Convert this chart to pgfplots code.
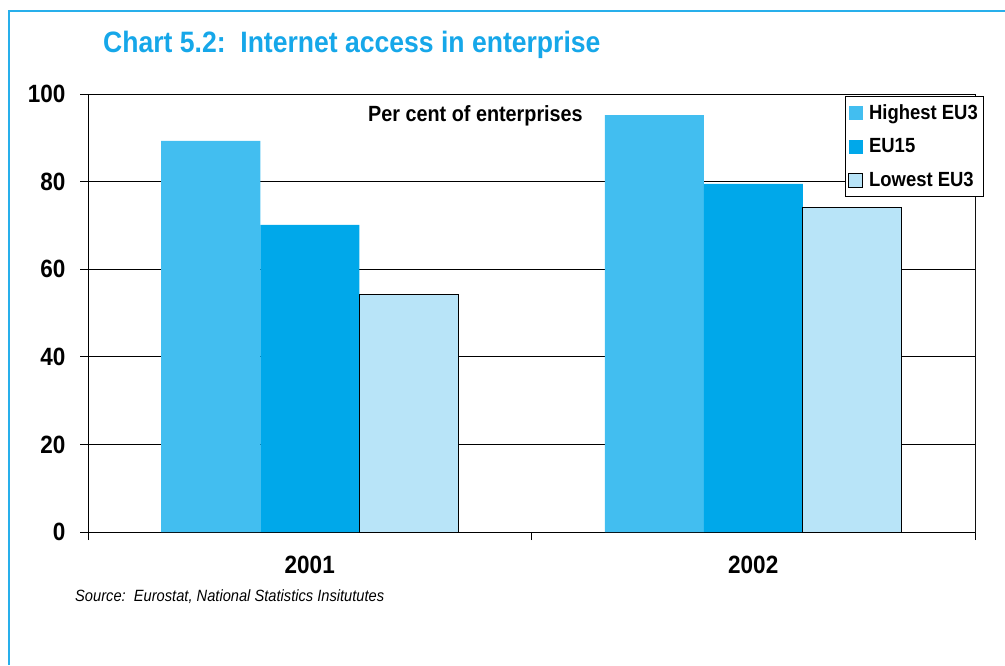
\documentclass[border=0pt]{standalone}
\usepackage{pgfplots}
\pgfplotsset{compat=1.18}
\usepackage{fontspec}
\setmainfont{Liberation Sans}[FakeStretch=0.9]
\definecolor{titleblue}{RGB}{22,167,233}
\definecolor{eublue}{RGB}{0,168,234}
\definecolor{hiblue}{RGB}{66,190,240}
\definecolor{loblue}{RGB}{184,228,248}
\definecolor{framebl}{RGB}{40,175,235}
\begin{document}
\begin{tikzpicture}[x=1pt,y=1pt]
\path[use as bounding box] (0,0) rectangle (1005,665);
\draw[framebl, line width=2pt] (9,0) -- (9,654) -- (1006,654);
\node[anchor=base west, text=titleblue, inner sep=0pt, font=\fontsize{29.5}{34}\selectfont\bfseries] at (103,612) {Chart 5.2:\ \ Internet access in enterprise};
\begin{axis}[
  at={(88pt,133pt)}, anchor=south west, scale only axis,
  width=887pt, height=438pt,
  ybar=0pt, bar width=99pt,
  xmin=-0.5, xmax=1.5, ymin=0, ymax=100,
  xtick={-0.5,0.5,1.5}, xticklabels={},
  extra x ticks={0,1}, extra x tick labels={2001,2002},
  extra x tick style={major tick length=0pt, grid=none},
  ytick={0,20,40,60,80,100},
  xtick pos=bottom, ytick pos=left,
  ymajorgrids, grid style={black, line width=0.8pt},
  tick align=outside, major tick length=8pt,
  tick style={black, line width=0.8pt},
  axis line style={black, line width=0.8pt},
  /pgf/number format/assume math mode=true,
  ticklabel style={font=\fontsize{25}{30}\selectfont\bfseries},
  xticklabel style={yshift=-21pt},
  yticklabel style={xshift=-11pt},
  legend style={at={(1.009,0.995)}, anchor=north east, draw=black, fill=white,
    font=\fontsize{20.5}{24}\selectfont\bfseries, inner xsep=3pt, inner ysep=6pt, row sep=14pt},
  legend cell align=left,
  legend image code/.code={\path[#1] (0pt,-7pt) rectangle (14pt,7pt); \path (18pt,0pt);},
]
\addplot[fill=hiblue, draw=none] coordinates {(0,89.3) (1,95.2)};
\addplot[fill=eublue, draw=none] coordinates {(0,70.1) (1,79.5)};
\addplot[fill=loblue, draw=black, line width=1pt] coordinates {(0,54.3) (1,74.0)};
\legend{Highest EU3, EU15, Lowest EU3}
\draw[gray, line width=1pt] (rel axis cs:1,0) -- (rel axis cs:1,0.9);
\draw[gray, line width=1pt] (rel axis cs:1,0) -- ++(0pt,-9pt);
\end{axis}
\node[anchor=base west, inner sep=0pt, font=\fontsize{22}{26}\selectfont\bfseries] at (368,543.3) {Per cent of enterprises};
\node[anchor=base west, inner sep=0pt, font=\fontsize{16.3}{19}\selectfont\itshape] at (75,63.3) {Source:\ \ Eurostat, National Statistics Insitututes};
\end{tikzpicture}
\end{document}
